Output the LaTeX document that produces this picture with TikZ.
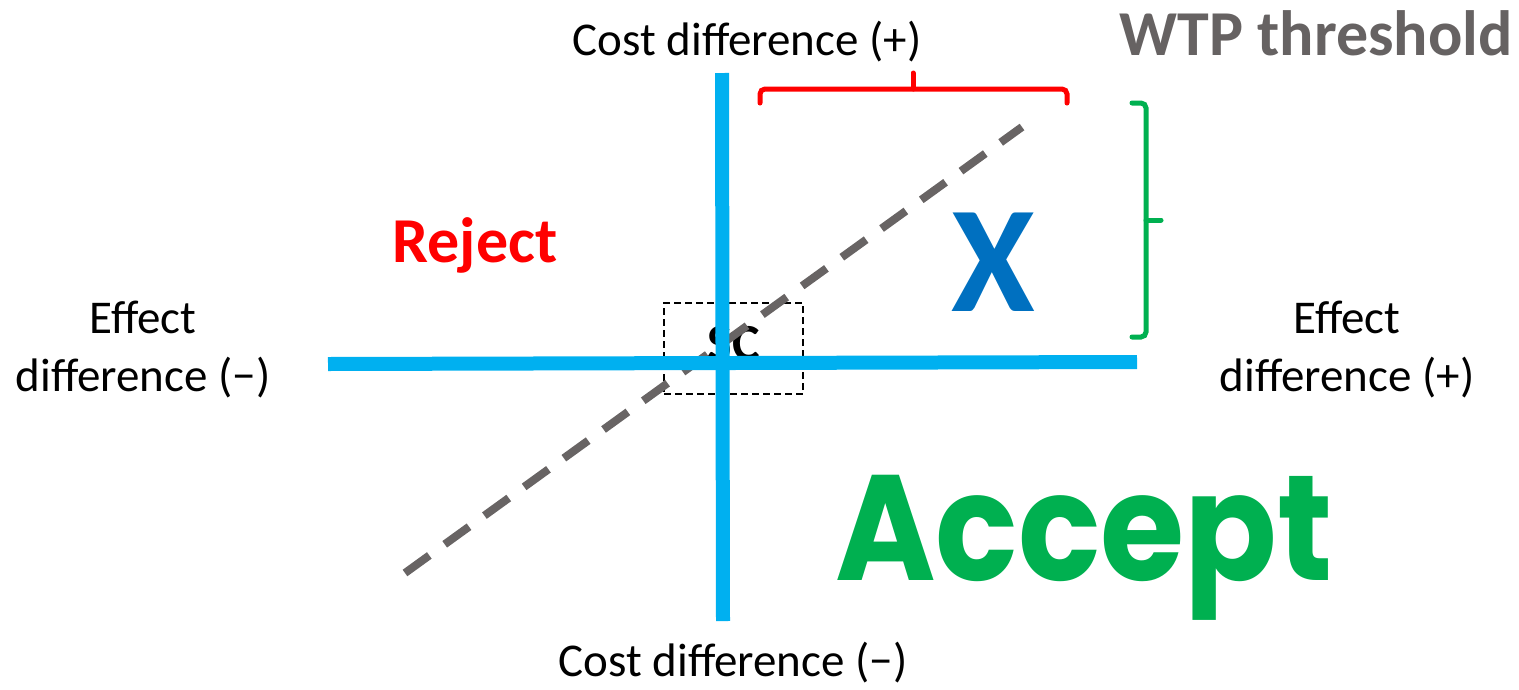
\documentclass[tikz,border=0pt]{standalone}
\usepackage{fontspec}
\setmainfont{Carlito}
\newfontfamily\accfont{Poppins}
\definecolor{axisblue}{HTML}{00B0F0}
\definecolor{dashgray}{HTML}{686464}
\definecolor{xblue}{HTML}{0070C0}
\definecolor{accgreen}{HTML}{00B050}
\definecolor{wtpgray}{HTML}{666262}
\begin{document}
\begin{tikzpicture}[x=1pt,y=-1pt,
  axis/.style={draw=axisblue,line width=14pt},
  thresh/.style={draw=dashgray,line width=8pt,dash pattern=on 30pt off 19pt},
  lbl/.style={font=\fontsize{47}{58}\selectfont,align=center,inner sep=0pt},
  bracered/.style={draw=red,line width=5pt,line cap=round,rounded corners=5pt},
  bracegreen/.style={draw=accgreen,line width=5pt,line cap=round,rounded corners=5pt}]
\useasboundingbox (0,0) rectangle (1519,689);
% SC box
\node[draw=black,line width=1.4pt,dash pattern=on 7pt off 4pt,minimum width=139pt,minimum height=91pt,inner sep=0pt] (scbox) at (733.5,348.5) {};
\node[font=\fontsize{52}{56}\selectfont\bfseries,inner sep=0pt] (sc) at (734,344) {SC};
% dashed WTP line
\coordinate (d1) at (405,573);
\coordinate (d2) at (1022,127);
\draw[thresh] (d1) -- (d2);
% axes
\coordinate (h1) at (328,364);
\coordinate (h2) at (1137,362);
\coordinate (v1) at (722,73);
\coordinate (v2) at (723,621);
\draw[axis] (h1) -- (h2);
\draw[axis] (v1) -- (v2);
% labels
\node[lbl] (ctop) at (747,42) {Cost difference (+)};
\node[lbl] (cbot) at (733,663) {Cost difference (−)};
\node[lbl] (eleft) at (143,350) {Effect\\difference (−)};
\node[lbl] (eright) at (1347,350) {Effect\\difference (+)};
\node[font=\fontsize{64}{70}\selectfont\bfseries,text=red,inner sep=0pt] (rej) at (475,245) {Reject};
\node[font=\fontsize{152}{160}\selectfont\bfseries,text=xblue,inner sep=0pt] (xx) at (993,262) {X};
\node[font=\fontsize{64}{70}\selectfont\bfseries,text=wtpgray,inner sep=0pt] (wtp) at (1316,33) {WTP threshold};
\node[font=\accfont\fontsize{150}{160}\selectfont\bfseries,text=accgreen,inner sep=0pt,anchor=base,xscale=0.91] (acc) at (1084,580) {Accept};
% red brace
\coordinate (r1) at (760,103);
\coordinate (r2) at (1067,103);
\coordinate (rt) at (913,73);
\draw[bracered] (r1) -- (760,89) -- (1067,89) -- (r2);
\draw[draw=red,line width=5pt,line cap=round] (913,89) -- (rt);
% green brace
\coordinate (g1) at (1132,103);
\coordinate (g2) at (1132,337);
\coordinate (gt) at (1161,220);
\draw[bracegreen] (g1) -- (1146,103) -- (1146,337) -- (g2);
\draw[draw=accgreen,line width=5pt,line cap=round] (1146,220) -- (gt);
\end{tikzpicture}
\end{document}
